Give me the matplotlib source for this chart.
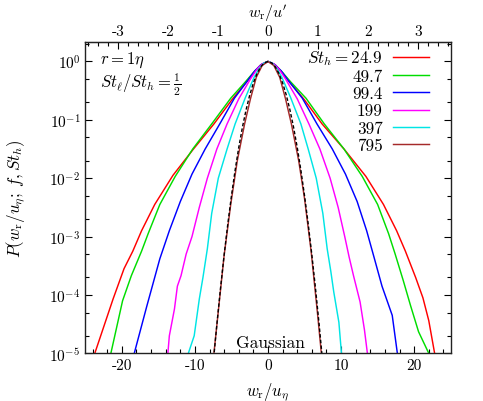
import matplotlib.pyplot as plt
import numpy as np
from matplotlib.ticker import FixedLocator, LogLocator, MultipleLocator, NullFormatter

plt.rcParams["font.family"] = "serif"
plt.rcParams["font.serif"] = ["cmr10"]
plt.rcParams["mathtext.fontset"] = "cm"
plt.rcParams["axes.formatter.use_mathtext"] = True
plt.rcParams["axes.unicode_minus"] = False

# u'/u_eta, links the bottom and the top axis
u_ratio = 6.84

st_labels = [r"$St_h = 24.9$", "49.7", "99.4", "199", "397", "795"]
colors = ["#ff0000", "#00dd00", "#0000ff", "#ff00ff", "#00e5e5", "#a52a2a"]

# x = w_r/u_eta, logp = log10 P
x_249 = [-23.7, -21.2, -19.7, -18.5, -17.3, -15.5, -13.0, -10.2, -7.4, -4.9, -3.0, -2.0, -1.0, 0,
         1.0, 2.0, 3.0, 5.0, 7.4, 10.4, 13.4, 15.8, 17.6, 18.8, 20.2, 21.2, 22.0, 22.8]
logp_249 = [-5, -4.07, -3.55, -3.25, -2.9, -2.45, -1.95, -1.5, -1.07, -0.65, -0.36, -0.2, -0.06, 0,
            -0.06, -0.2, -0.36, -0.66, -1.07, -1.5, -1.97, -2.45, -2.9, -3.25, -3.7, -4.05, -4.44, -5]

x_497 = [-21.5, -19.9, -18.7, -17.3, -16.4, -14.8, -12.7, -10.3, -7.7, -5.1, -3.1, -2.0, -1.0, 0,
         1.0, 2.0, 3.1, 5.2, 7.7, 10.4, 12.9, 15.0, 16.5, 17.4, 18.5, 19.5, 20.6, 22.0]
logp_497 = [-5, -4.1, -3.67, -3.25, -2.95, -2.45, -1.97, -1.5, -1.07, -0.63, -0.35, -0.19, -0.06, 0,
            -0.06, -0.19, -0.35, -0.63, -1.07, -1.5, -1.97, -2.45, -2.95, -3.3, -3.75, -4.18, -4.63, -5]

x_994 = [-18.3, -16.6, -14.8, -13.5, -12.0, -10.4, -8.6, -6.6, -4.6, -2.8, -1.8, -0.9, 0,
         0.9, 1.8, 2.8, 4.7, 6.7, 8.8, 10.6, 12.2, 13.5, 14.5, 15.6, 17.0, 17.7]
logp_994 = [-5, -4.2, -3.38, -2.9, -2.4, -1.93, -1.5, -1.07, -0.63, -0.33, -0.16, -0.05, 0,
            -0.05, -0.16, -0.33, -0.63, -1.07, -1.5, -1.93, -2.4, -2.9, -3.35, -3.85, -4.35, -5]

x_199 = [-13.7, -13.5, -12.8, -12.4, -11.9, -11.2, -10.4, -9.4, -8.3, -7.0, -5.6, -4.0, -2.4, -1.5, -0.8, 0,
         0.8, 1.5, 2.4, 4.0, 5.6, 7.1, 8.5, 9.6, 10.5, 11.1, 11.7, 12.6, 13.2, 13.6]
logp_199 = [-5, -4.7, -4.24, -3.85, -3.67, -3.3, -3.0, -2.5, -2.0, -1.5, -1.07, -0.64, -0.3, -0.13, -0.04, 0,
            -0.04, -0.13, -0.3, -0.64, -1.07, -1.5, -2.0, -2.5, -3.0, -3.35, -3.67, -4.12, -4.6, -5]

x_397 = [-10.9, -10.1, -9.4, -8.9, -8.3, -7.7, -6.8, -5.6, -4.5, -3.1, -1.9, -1.2, -0.6, 0,
         0.6, 1.2, 1.9, 3.1, 4.5, 5.5, 6.6, 7.5, 8.1, 8.6, 9.0, 9.7, 10.05]
logp_397 = [-5, -4.7, -4.07, -3.7, -3.21, -2.6, -2.0, -1.5, -1.07, -0.62, -0.27, -0.12, -0.03, 0,
            -0.03, -0.12, -0.27, -0.62, -1.07, -1.5, -2.0, -2.6, -3.21, -3.6, -3.95, -4.47, -5]

x_795 = [-7.4, -6.9, -6.0, -5.1, -4.2, -3.2, -2.4, -1.6, -0.8, 0,
         0.8, 1.6, 2.4, 3.2, 4.2, 5.0, 5.9, 6.8, 7.3]
logp_795 = [-5, -4.4, -3.32, -2.45, -1.7, -1.07, -0.64, -0.27, -0.07, 0,
            -0.07, -0.27, -0.64, -1.07, -1.7, -2.35, -3.25, -4.35, -5]

x_gauss = [-7.5, -7, -6.5, -6, -5.5, -5, -4.5, -4, -3.5, -3, -2.5, -2, -1.5, -1, -0.5, 0,
           0.5, 1, 1.5, 2, 2.5, 3, 3.5, 4, 4.5, 5, 5.5, 6, 6.5, 7, 7.5]
logp_gauss = [-5.175, -4.508, -3.887, -3.312, -2.783, -2.3, -1.863, -1.472, -1.127, -0.828,
              -0.575, -0.368, -0.207, -0.092, -0.023, 0,
              -0.023, -0.092, -0.207, -0.368, -0.575, -0.828, -1.127, -1.472, -1.863, -2.3,
              -2.783, -3.312, -3.887, -4.508, -5.175]

curves = [(x_249, logp_249), (x_497, logp_497), (x_994, logp_994),
          (x_199, logp_199), (x_397, logp_397), (x_795, logp_795)]

fig = plt.figure(figsize=(4.83, 4.02), dpi=100)
ax = fig.add_axes([85.3 / 483, 1 - 354.3 / 402, 365.4 / 483, 311.0 / 402])

for (xs, lp), c, lab in zip(curves, colors, st_labels):
    ax.plot(xs, 10 ** np.array(lp), color=c, lw=1.05, label=lab)

ax.plot(x_gauss, 10 ** np.array(logp_gauss), color="black", lw=1.0, dashes=(2.5, 1.6))

ax.set_yscale("log")
ax.set_xlim(-25, 25)
ax.set_ylim(1e-5, 2.13)

ax.xaxis.set_major_locator(FixedLocator([-20, -10, 0, 10, 20]))
ax.set_xticklabels(["-20", "-10", "0", "10", "20"])
ax.xaxis.set_minor_locator(MultipleLocator(2))
ax.yaxis.set_major_locator(LogLocator(base=10, numticks=10))
ax.yaxis.set_minor_locator(LogLocator(base=10, subs=(2, 5), numticks=10))
ax.yaxis.set_minor_formatter(NullFormatter())
ax.tick_params(which="both", direction="in", right=True, top=False, labelsize=11, width=0.8)
ax.tick_params(which="major", length=5)
ax.tick_params(which="minor", length=3)

top = ax.secondary_xaxis("top", functions=(lambda v: v / u_ratio, lambda v: v * u_ratio))
top.xaxis.set_major_locator(FixedLocator([-3, -2, -1, 0, 1, 2, 3]))
top.set_xticklabels(["-3", "-2", "-1", "0", "1", "2", "3"])
top.xaxis.set_minor_locator(MultipleLocator(0.2))
top.tick_params(which="both", direction="in", labelsize=11, width=0.8, pad=3)
top.tick_params(which="major", length=5)
top.tick_params(which="minor", length=3)
top.set_xlabel(r"$w_{\rm r}/u'$", fontsize=11.5, labelpad=5)

for s in ax.spines.values():
    s.set_linewidth(1.0)
    s.set_color("#222222")

ax.set_xlabel(r"$w_{\rm r}/u_\eta$", fontsize=12, labelpad=6)
ax.set_ylabel(r"$P(w_{\rm r}/u_\eta;\, f, St_h)$", fontsize=12.3, va="center")
ax.yaxis.set_label_coords(-0.19, 0.5)

ax.text(0.04, 0.945, r"$r = 1\eta$", transform=ax.transAxes, fontsize=12, va="center")
ax.text(0.04, 0.865, r"$St_\ell/St_h = \frac{1}{2}$", transform=ax.transAxes, fontsize=12, va="center")
ax.text(0.507, 0.035, "Gaussian", transform=ax.transAxes, fontsize=12.5, ha="center", va="center")

ax.legend(loc="upper right", bbox_to_anchor=(0.94, 0.98), markerfirst=False, frameon=False,
          fontsize=12.3, handlelength=2.1, handletextpad=0.6, labelspacing=0.1,
          borderpad=0, borderaxespad=0)

fig.savefig("out.png", dpi=100)
